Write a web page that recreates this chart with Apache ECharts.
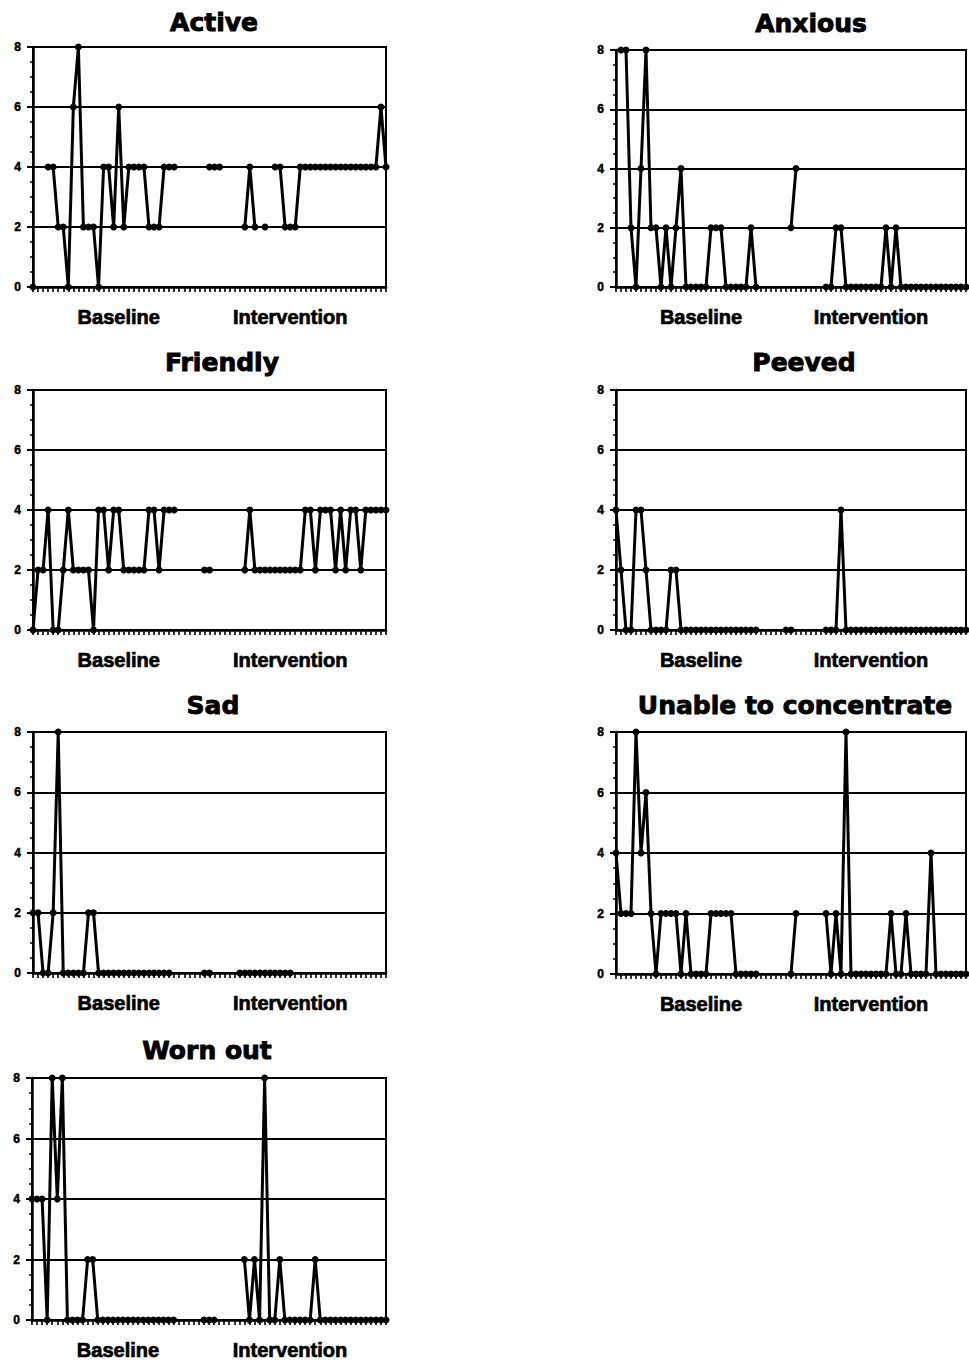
<!DOCTYPE html>
<html>
<head>
<meta charset="utf-8">
<title>Mood ratings: baseline and intervention</title>
<script src="https://cdn.jsdelivr.net/npm/echarts@6.0.0/dist/echarts.min.js"></script>
<style>
  html, body { margin: 0; padding: 0; background: #ffffff; }
  #chart { width: 969px; height: 1363px; }
</style>
</head>
<body>
<div id="chart"></div>
<script>
// Daily ratings (0-8) for each mood item; null marks days without a rating.
const N = null;

const days = Array.from({ length: 71 }, (_, i) => String(i + 1));

const active   = [0,N,N,4,4,2,2,0,6,8,2,2,2,0,4,4,2,6,2,4,4,4,4,2,2,2,4,4,4, N,N,N,N,N,N, 4,4,4, N,N,N,N, 2,4,2,N,2,N,4,4,2,2,2,4, 4,4,4,4,4,4,4,4,4,4,4,4,4,4,4, 6,4];
const anxious  = [N,8,8,2,0,4,8,2,2,0,2,0,2,4,0,0,0,0,0,2,2,2,0,0,0,0,0,2,0, N,N,N,N,N,N, 2,4, N,N,N,N,N, 0,0,2,2,0,0,0,0,0,0,0,0,2,0,2,0, 0,0,0,0,0,0,0,0,0,0,0,0,0];
const friendly = [0,2,2,4,0,0,2,4,2,2,2,2,0,4,4,2,4,4,2,2,2,2,2,4,4,2,4,4,4, N,N,N,N,N, 2,2, N,N,N,N,N,N, 2,4,2,2,2,2,2,2,2,2,2,2,4,4,2,4,4,4,2,4,2,4,4,2,4,4,4,4,4];
const peeved   = [4,2,0,0,4,4,2,0,0,0,0,2,2,0, 0,0,0,0,0,0,0,0,0,0,0,0,0,0,0, N,N,N,N,N, 0,0, N,N,N,N,N,N, 0,0,0,4,0, 0,0,0,0,0,0,0,0,0,0,0,0,0,0,0,0,0,0,0,0,0,0,0,0];
const sad      = [2,2,0,0,2,8,0,0,0,0,0,2,2,0, 0,0,0,0,0,0,0,0,0,0,0,0,0,0, N,N,N,N,N,N, 0,0, N,N,N,N,N, 0,0,0,0,0,0,0,0,0,0,0, N,N,N,N,N,N,N,N,N,N,N,N,N,N,N,N,N,N,N];
const unable   = [4,2,2,2,8,4,6,2,0,2,2,2,2,0,2,0,0,0,0,2,2,2,2,2,0,0,0,0,0, N,N,N,N,N,N, 0,2, N,N,N,N,N, 2,0,2,0,8,0, 0,0,0,0,0,0,0, 2,0,0,2,0,0,0,0,4, 0,0,0,0,0,0,0];
const wornOut  = [4,4,4,0,8,4,8,0,0,0,0,2,2,0, 0,0,0,0,0,0,0,0,0,0,0,0,0,0,0, N,N,N,N,N, 0,0,0, N,N,N,N,N, 2,0,2,0,8,0,0,2,0, 0,0,0,0,0, 2,0, 0,0,0,0,0,0,0,0,0,0,0,0,0];

const itemNames = ['Active', 'Anxious', 'Friendly', 'Peeved', 'Sad', 'Unable to concentrate', 'Worn out'];
const itemSeries = [active, anxious, friendly, peeved, sad, unable, wornOut];

// Phase captions under each x axis and the day they are centred on.
const phaseLabels = ['Baseline', 'Intervention'];
const phaseLabelDays = ['18', '52'];

const yTicks = [0, 2, 4, 6, 8];

// Panel placement: two columns, four rows.
const panelBoxes = [
  { left: 33,  top: 47,   width: 353, height: 240, tx: 214, ty: 22 },
  { left: 616, top: 50,   width: 356, height: 237, tx: 811, ty: 23 },
  { left: 33,  top: 390,  width: 353, height: 240, tx: 222, ty: 362 },
  { left: 616, top: 390,  width: 356, height: 240, tx: 804, ty: 362 },
  { left: 33,  top: 732,  width: 353, height: 241, tx: 213, ty: 705 },
  { left: 616, top: 732,  width: 356, height: 242, tx: 795, ty: 705 },
  { left: 32,  top: 1078, width: 354, height: 242, tx: 207, ty: 1050 }
];

const black = '#000000';

const chart = echarts.init(document.getElementById('chart'), null, { renderer: 'svg' });

const option = {
  animation: false,
  backgroundColor: '#ffffff',
  graphic: panelBoxes.map((b, i) => ({
    type: 'text',
    x: b.tx,
    y: b.ty,
    style: {
      text: itemNames[i],
      align: 'center',
      verticalAlign: 'middle',
      fill: black,
      stroke: black,
      lineWidth: 0.9,
      font: 'bold 25px "DejaVu Sans"'
    }
  })),
  grid: panelBoxes.map(b => ({
    left: b.left, top: b.top, width: b.width, height: b.height,
    show: true, borderColor: black, borderWidth: 2, backgroundColor: 'transparent'
  })),
  xAxis: panelBoxes.map((b, i) => ({
    type: 'category',
    gridIndex: i,
    data: days,
    boundaryGap: false,
    axisLine: { lineStyle: { color: black, width: 2.5 } },
    axisTick: { show: true, interval: 0, length: 5, lineStyle: { color: black, width: 1.6 } },
    axisLabel: {
      interval: 0,
      margin: 20,
      color: black,
      fontFamily: '"Liberation Sans"',
      fontWeight: 'bold',
      fontSize: 20,
      textBorderColor: black,
      textBorderWidth: 0.7,
      formatter: value => {
        const k = phaseLabelDays.indexOf(value);
        return k >= 0 ? phaseLabels[k] : '';
      }
    },
    splitLine: { show: false }
  })),
  yAxis: panelBoxes.map((b, i) => ({
    type: 'value',
    gridIndex: i,
    min: yTicks[0],
    max: yTicks[yTicks.length - 1],
    interval: yTicks[1] - yTicks[0],
    axisLine: { show: true, lineStyle: { color: black, width: 2.5 } },
    axisTick: { show: true, length: 6, lineStyle: { color: black, width: 2 } },
    minorTick: { show: true, splitNumber: 4, length: 3, lineStyle: { color: black, width: 1.5 } },
    axisLabel: {
      margin: 12,
      color: black,
      fontFamily: '"Liberation Sans"',
      fontWeight: 'bold',
      fontSize: 12,
      textBorderColor: black,
      textBorderWidth: 0.5
    },
    splitLine: { show: true, lineStyle: { color: black, width: 2 } }
  })),
  series: itemSeries.map((data, i) => ({
    name: itemNames[i],
    type: 'line',
    xAxisIndex: i,
    yAxisIndex: i,
    data: data,
    connectNulls: false,
    symbol: 'circle',
    symbolSize: 7,
    showAllSymbol: true,
    lineStyle: { color: black, width: 3 },
    itemStyle: { color: black },
    emphasis: { disabled: true }
  }))
};

chart.setOption(option);
</script>
</body>
</html>
